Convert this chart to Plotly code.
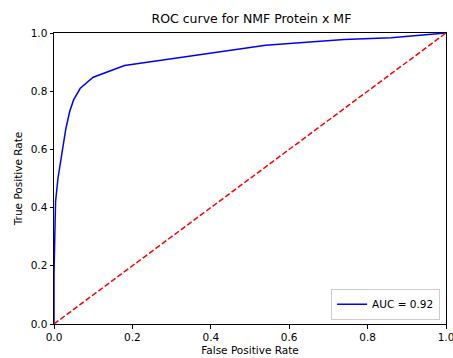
import plotly.graph_objects as go

fpr = [0, 0, 0.002, 0.004, 0.01, 0.02, 0.03, 0.04, 0.05, 0.067, 0.1, 0.18, 0.54, 0.74, 0.86, 1.0]
tpr = [0, 0.17, 0.3, 0.42, 0.5, 0.59, 0.67, 0.73, 0.77, 0.81, 0.848, 0.888, 0.958, 0.978, 0.984, 1.0]
diag = [0, 1]
auc_label = "AUC = 0.92"
title = "ROC curve for NMF Protein x MF"
ticks = [0, 0.2, 0.4, 0.6, 0.8, 1.0]

fig = go.Figure()
fig.add_trace(go.Scatter(x=fpr, y=tpr, mode="lines", name=auc_label,
                         line=dict(color="blue", width=1.5)))
fig.add_trace(go.Scatter(x=diag, y=diag, mode="lines", showlegend=False,
                         line=dict(color="red", width=1.5, dash="5.5px,2.4px")))

axis_common = dict(range=[0, 1], tickvals=ticks, tickformat=".1f", showgrid=False,
                   zeroline=False, showline=True, linecolor="black", linewidth=1,
                   mirror=True, ticks="outside", ticklen=3.5, tickcolor="black",
                   automargin=False, ticklabeloverflow="allow",
                   tickfont=dict(family="DejaVu Sans", size=10.5, color="black"))

fig.update_layout(
    width=453, height=358,
    margin=dict(l=54, r=7, t=33, b=34),
    paper_bgcolor="white", plot_bgcolor="white",
    title=dict(text=title, x=0.555, xanchor="center", y=0.947, yanchor="middle",
               automargin=False,
               font=dict(family="DejaVu Sans", size=12.5, color="black")),
    xaxis=dict(**axis_common, title=dict(text="False Positive Rate", standoff=4,
               font=dict(family="DejaVu Sans", size=10.5, color="black"))),
    yaxis=dict(**axis_common, title=dict(text="True Positive Rate", standoff=6,
               font=dict(family="DejaVu Sans", size=10.5, color="black"))),
    legend=dict(x=0.985, xanchor="right", y=0.015, yanchor="bottom",
                bgcolor="rgba(255,255,255,0.8)", bordercolor="#cccccc", borderwidth=1,
                font=dict(family="DejaVu Sans", size=10.5, color="black"),
                itemwidth=30),
)

fig.write_html("out.html")
